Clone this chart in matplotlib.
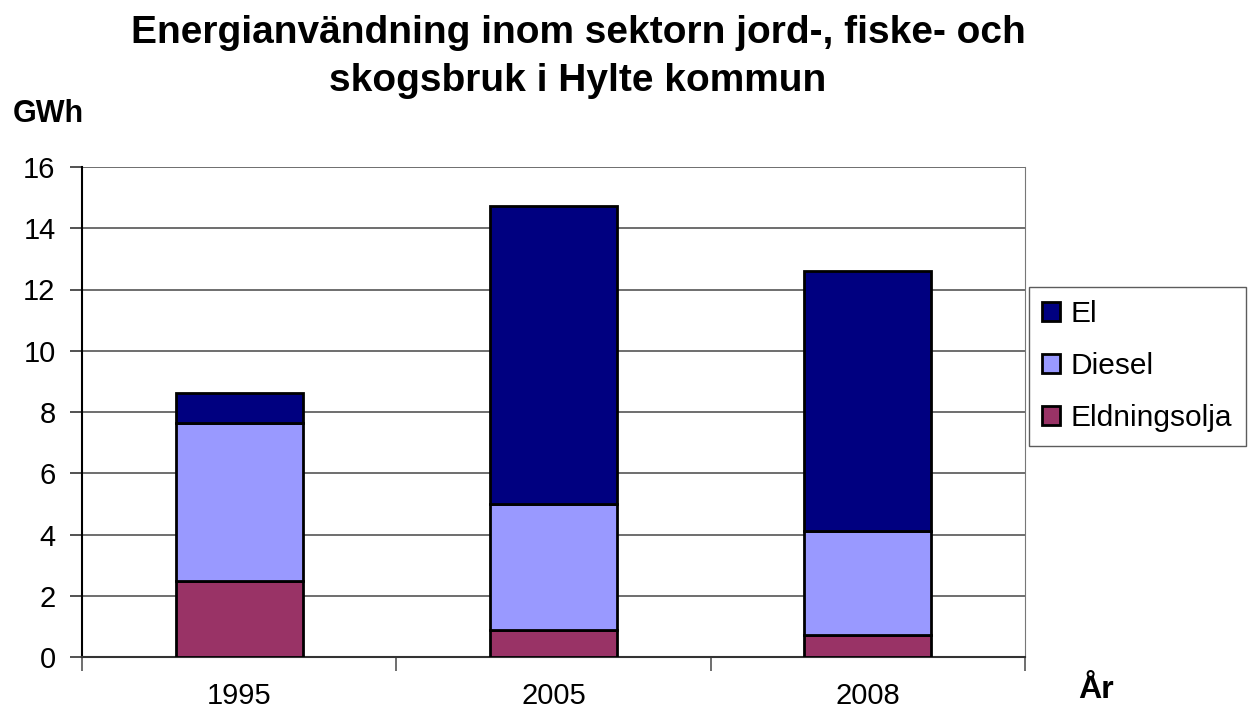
import matplotlib.pyplot as plt
import numpy as np

plt.rcParams['font.family'] = ['Liberation Sans', 'DejaVu Sans']

years = ['1995', '2005', '2008']
eldningsolja = [2.48, 0.87, 0.73]
diesel = [5.17, 4.14, 3.37]
el = [0.98, 9.72, 8.52]

fig = plt.figure(figsize=(12.59, 7.16), dpi=100)
ax = fig.add_axes([82 / 1259, 59 / 716, 943 / 1259, 490 / 716])

x = np.arange(len(years))
w = 0.405
bottom2 = np.array(eldningsolja) + np.array(diesel)
ax.bar(x, eldningsolja, w, color='#993366', edgecolor='black', linewidth=2, label='Eldningsolja', zorder=3)
ax.bar(x, diesel, w, bottom=eldningsolja, color='#9999ff', edgecolor='black', linewidth=2, label='Diesel', zorder=3)
ax.bar(x, el, w, bottom=bottom2, color='#000080', edgecolor='black', linewidth=2, label='El', zorder=3)

ax.set_xlim(-0.5, 2.5)
ax.set_ylim(0, 16)
ax.set_yticks(range(0, 17, 2))
ax.tick_params(axis='y', labelsize=21, length=9, width=1.2, color='#333333', pad=10)
ax.set_xticks(x)
ax.set_xticklabels(years, fontsize=21)
ax.set_xticks([-0.5, 0.5, 1.5, 2.5], minor=True)
ax.tick_params(axis='x', which='major', length=0, pad=18)
ax.tick_params(axis='x', which='minor', length=10, width=1.2, color='#555555')
ax.grid(axis='y', color='#555555', linewidth=1.2, zorder=0)
ax.set_axisbelow(True)
ax.spines['top'].set_visible(False)
ax.spines['right'].set_color('#777777')
ax.spines['left'].set_linewidth(1.5)
ax.spines['bottom'].set_linewidth(1.5)
ax.spines['bottom'].set_color('#333333')

fig.text(578 / 1259, 1 - 57 / 716, 'Energianvändning inom sektorn jord-, fiske- och\nskogsbruk i Hylte kommun',
         ha='center', va='center', fontsize=28, fontweight='bold', linespacing=1.45)
fig.text(48 / 1259, 1 - 114 / 716, 'GWh', ha='center', va='center', fontsize=22, fontweight='bold')
fig.text(1096 / 1259, 1 - 690 / 716, 'År', ha='center', va='center', fontsize=23, fontweight='bold')

handles, labels = ax.get_legend_handles_labels()
leg = fig.legend(handles[::-1], labels[::-1], loc='upper left', bbox_to_anchor=(1029 / 1259, 1 - 287 / 716),
                 fontsize=21.5, frameon=True, fancybox=False, edgecolor='#333333', handlelength=0.6,
                 handleheight=0.6, handletextpad=0.35, labelspacing=0.8, borderpad=0.45, borderaxespad=0)
leg.get_frame().set_linewidth(1)

plt.savefig('out.png', dpi=100)
